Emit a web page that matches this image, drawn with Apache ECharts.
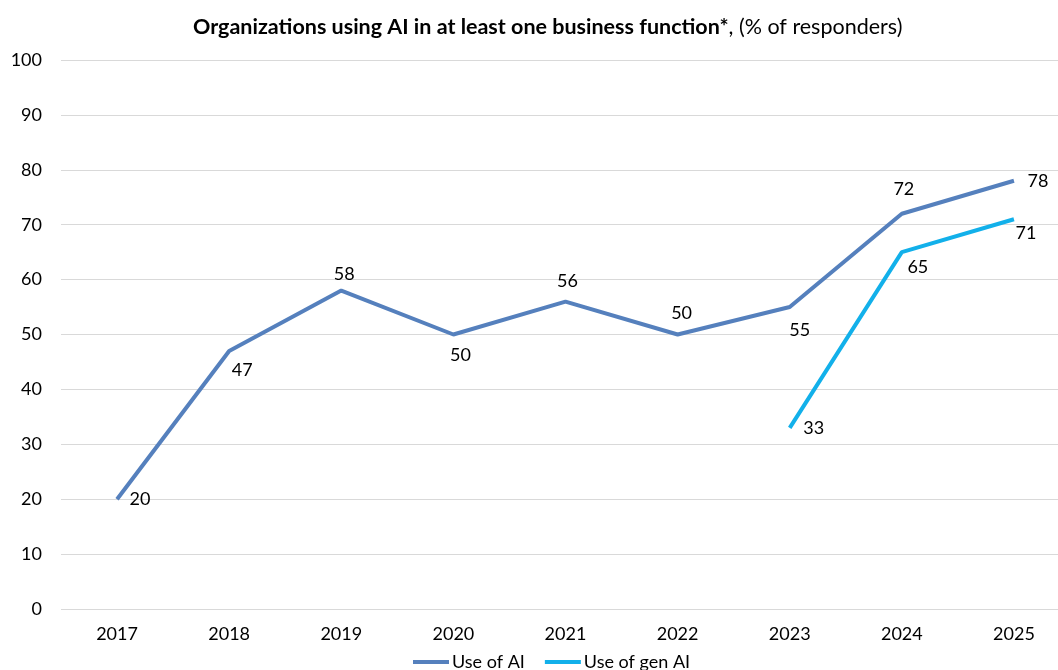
<!DOCTYPE html>
<html>
<head>
<meta charset="utf-8">
<script src="https://cdn.jsdelivr.net/npm/echarts@6/dist/echarts.min.js"></script>
<style>
  html, body { margin: 0; padding: 0; background: #fff; }
  #chart { width: 1058px; height: 670px; }
</style>
</head>
<body>
<div id="chart"></div>
<script>
// Survey years and adoption shares (% of responders)
const years = ['2017', '2018', '2019', '2020', '2021', '2022', '2023', '2024', '2025'];
const useOfAI = [20, 47, 58, 50, 56, 50, 55, 72, 78];
const useOfGenAI = [null, null, null, null, null, null, 33, 65, 71];
const yTicks = { min: 0, max: 100, interval: 10 };

// Per-point label offsets [dx, dy] relative to the point
const aiLabelOffsets = [[23, 0], [13, 19], [3, -16], [7, 21], [2, -20], [4, -21], [10, 23], [2, -25], [24, 0]];
const genLabelOffsets = [null, null, null, null, null, null, [24, 0], [16, 15], [12, 14]];

const FONT = 'Lato, "Open Sans", sans-serif';

function withLabels(values, offsets) {
  return values.map((v, i) => {
    if (v === null) return null;
    return {
      value: v,
      label: { position: 'inside', offset: offsets[i] }
    };
  });
}

const chart = echarts.init(document.getElementById('chart'), null, { renderer: 'canvas' });

chart.setOption({
  backgroundColor: '#ffffff',
  animation: false,
  title: {
    text: '{b|Organizations using AI in at least one business function*}{n|, (% of responders)}',
    left: 188,
    top: 11,
    textStyle: {
      rich: {
        b: { fontFamily: FONT, fontSize: 21.5, fontWeight: 'bold', color: '#000' },
        n: { fontFamily: FONT, fontSize: 21.5, fontWeight: 'normal', color: '#000' }
      }
    }
  },
  legend: {
    bottom: -6,
    left: 408,
    itemWidth: 36,
    itemHeight: 4,
    itemGap: 20,
    icon: 'rect',
    textStyle: { fontFamily: FONT, fontSize: 18, color: '#000', padding: [0, 0, 0, -2] },
    data: ['Use of AI', 'Use of gen AI']
  },
  grid: { left: 61, width: 1009, top: 60, bottom: 61, containLabel: false, outerBoundsMode: 'none' },
  xAxis: {
    type: 'category',
    data: years,
    boundaryGap: true,
    axisLine: { show: false },
    axisTick: { show: false },
    axisLabel: { fontFamily: FONT, fontSize: 18, color: '#000', margin: 16 }
  },
  yAxis: {
    type: 'value',
    min: yTicks.min,
    max: yTicks.max,
    interval: yTicks.interval,
    axisLine: { show: false },
    axisTick: { show: false },
    axisLabel: { fontFamily: FONT, fontSize: 18, color: '#000', margin: 19 },
    splitLine: { lineStyle: { color: '#d9d9d9', width: 1 } }
  },
  series: [
    {
      name: 'Use of AI',
      type: 'line',
      data: withLabels(useOfAI, aiLabelOffsets),
      symbol: 'circle',
      symbolSize: 0.1,
      itemStyle: { color: '#5580bd' },
      lineStyle: { color: '#5580bd', width: 4 },
      label: { show: true, fontFamily: FONT, fontSize: 18, color: '#000' }
    },
    {
      name: 'Use of gen AI',
      type: 'line',
      data: withLabels(useOfGenAI, genLabelOffsets),
      symbol: 'circle',
      symbolSize: 0.1,
      itemStyle: { color: '#12b0ea' },
      lineStyle: { color: '#12b0ea', width: 4 },
      label: { show: true, fontFamily: FONT, fontSize: 18, color: '#000' }
    }
  ]
});
</script>
</body>
</html>
